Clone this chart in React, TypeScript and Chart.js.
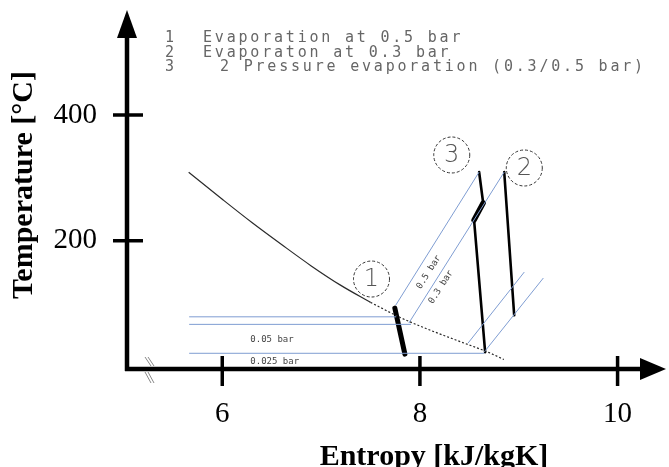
import React, { useEffect, useRef } from "react";
import { Chart, registerables } from "chart.js";
Chart.register(...registerables);

// ---- axes ----
const xTicks = [6, 8, 10];
const yTicks = [200, 400];
const X_MIN = 5.036;
const X_MAX = 10.49;
const Y_MIN = -4;
const Y_MAX = 567;

// ---- saturated vapour curve (entropy, temperature) ----
const satCurveS = [5.66, 6.0, 6.3, 6.6, 6.9, 7.2, 7.5, 7.8, 8.1, 8.4, 8.7, 8.85];
const satCurveT = [309, 266, 229, 194, 160, 129, 102, 78, 58, 40, 22, 11];
const satSolidCount = 7;

// ---- wet-region isobars (horizontal) ----
const wetIsobarT = [79, 67, 21];
const wetIsobarStartS = [5.665, 5.665, 5.665];
const wetIsobarEndS = [7.76, 7.91, 8.65];
const wetLabels = ["0.05 bar", "0.025 bar"];
const wetLabelS = [6.284, 6.284];
const wetLabelT = [42, 7];

// ---- superheated isobars (diagonal) ----
const isobarStartS = [7.756, 7.888, 8.487, 8.65];
const isobarStartT = [97.7, 69.1, 37.2, 22.9];
const isobarEndS = [8.599, 8.853, 9.056, 9.249];
const isobarEndT = [309.3, 309.3, 150.2, 140.7];
const isobarLabels = ["0.5 bar", "0.3 bar"];
const isobarLabelS = [8.091, 8.213];
const isobarLabelT = [150.1, 126.3];

// ---- processes ----
const proc1S = [7.746, 7.848];
const proc1T = [92.9, 19.7];
const proc2S = [8.853, 8.954];
const proc2T = [309.3, 81.4];
const proc3UpperS = [8.599, 8.64];
const proc3UpperT = [309.3, 260.0];
const proc3ThickS = [8.64, 8.548];
const proc3ThickT = [260.0, 232.9];
const proc3LowerS = [8.548, 8.66];
const proc3LowerT = [232.9, 22.9];

// ---- numbered markers ----
const markerLabels = ["1", "2", "3"];
const markerS = [7.51, 9.056, 8.322];
const markerT = [139.1, 315.7, 336.4];

// ---- legend text ----
const legendNumbers = ["1", "2", "3"];
const legendTexts = [
  "Evaporation at 0.5 bar",
  "Evaporaton at 0.3 bar",
  "2 Pressure evaporation (0.3/0.5 bar)",
];

const xTitle = "Entropy [kJ/kgK]";
const yTitle = "Temperature [°C]";

const BLUE = "#7f9dd2";
const CURVE = "#2a2a2a";

function pts(xs: number[], ys: number[]) {
  return xs.map((v, i) => ({ x: v, y: ys[i] }));
}

function buildDatasets() {
  const base = { showLine: true, pointRadius: 0, fill: false };
  const ds: any[] = [];
  ds.push({
    ...base,
    data: pts(satCurveS.slice(0, satSolidCount), satCurveT.slice(0, satSolidCount)),
    borderColor: CURVE,
    borderWidth: 1.2,
    cubicInterpolationMode: "monotone",
  });
  ds.push({
    ...base,
    data: pts(satCurveS.slice(satSolidCount - 1), satCurveT.slice(satSolidCount - 1)),
    borderColor: CURVE,
    borderWidth: 1.2,
    borderDash: [2, 2],
    cubicInterpolationMode: "monotone",
  });
  wetIsobarT.forEach((t, i) => {
    ds.push({
      ...base,
      data: pts([wetIsobarStartS[i], wetIsobarEndS[i]], [t, t]),
      borderColor: BLUE,
      borderWidth: 1,
    });
  });
  isobarStartS.forEach((s, i) => {
    ds.push({
      ...base,
      data: pts([s, isobarEndS[i]], [isobarStartT[i], isobarEndT[i]]),
      borderColor: BLUE,
      borderWidth: 1,
    });
  });
  const proc = (xs: number[], ys: number[], w: number) => ({
    ...base,
    data: pts(xs, ys),
    borderColor: "#000",
    borderWidth: w,
    borderCapStyle: "round",
  });
  ds.push(proc(proc1S, proc1T, 5));
  ds.push(proc(proc2S, proc2T, 2.6));
  ds.push(proc(proc3UpperS, proc3UpperT, 2.6));
  ds.push(proc(proc3LowerS, proc3LowerT, 2.6));
  ds.push(proc(proc3ThickS, proc3ThickT, 5.5));
  return ds;
}

const decorPlugin = {
  id: "decor",
  afterDatasetsDraw(chart: any) {
    const { ctx, scales } = chart;
    const x = scales.x;
    const y = scales.y;
    ctx.save();
    // numbered dashed circles
    markerLabels.forEach((lab, i) => {
      const px = x.getPixelForValue(markerS[i]);
      const py = y.getPixelForValue(markerT[i]);
      ctx.setLineDash([3, 2]);
      ctx.strokeStyle = "#333";
      ctx.lineWidth = 1;
      ctx.beginPath();
      ctx.arc(px, py, 18, 0, Math.PI * 2);
      ctx.stroke();
      ctx.setLineDash([]);
      ctx.fillStyle = "#555";
      ctx.font = "300 24px 'DejaVu Sans'";
      ctx.textAlign = "center";
      ctx.textBaseline = "middle";
      ctx.fillText(lab, px, py + 1);
    });
    // isobar labels (rotated along lines)
    isobarLabels.forEach((lab, i) => {
      const x1 = x.getPixelForValue(isobarStartS[i]);
      const y1 = y.getPixelForValue(isobarStartT[i]);
      const x2 = x.getPixelForValue(isobarEndS[i]);
      const y2 = y.getPixelForValue(isobarEndT[i]);
      const ang = Math.atan2(y2 - y1, x2 - x1);
      const px = x.getPixelForValue(isobarLabelS[i]);
      const py = y.getPixelForValue(isobarLabelT[i]);
      ctx.save();
      ctx.translate(px, py);
      ctx.rotate(ang);
      ctx.fillStyle = "#444";
      ctx.font = "9px 'DejaVu Sans Mono'";
      ctx.textAlign = "center";
      ctx.textBaseline = "middle";
      ctx.fillText(lab, 0, 0);
      ctx.restore();
    });
    // wet-region labels
    wetLabels.forEach((lab, i) => {
      const px = x.getPixelForValue(wetLabelS[i]);
      const py = y.getPixelForValue(wetLabelT[i]);
      ctx.fillStyle = "#444";
      ctx.font = "9px 'DejaVu Sans Mono'";
      ctx.textAlign = "left";
      ctx.textBaseline = "middle";
      ctx.fillText(lab, px, py);
    });
    ctx.restore();
  },
  afterDraw(chart: any) {
    const { ctx, chartArea, scales } = chart;
    const { left, right, top, bottom } = chartArea;
    const x = scales.x;
    const y = scales.y;
    ctx.save();
    ctx.strokeStyle = "#000";
    ctx.fillStyle = "#000";
    ctx.setLineDash([]);
    // y axis
    ctx.lineWidth = 4.5;
    ctx.beginPath();
    ctx.moveTo(left, bottom + 2);
    ctx.lineTo(left, top + 20);
    ctx.stroke();
    ctx.beginPath();
    ctx.moveTo(left, top);
    ctx.lineTo(left - 10, top + 28);
    ctx.lineTo(left + 10, top + 28);
    ctx.closePath();
    ctx.fill();
    // x axis
    ctx.beginPath();
    ctx.moveTo(left - 2, bottom);
    ctx.lineTo(right - 20, bottom);
    ctx.stroke();
    ctx.beginPath();
    ctx.moveTo(right, bottom);
    ctx.lineTo(right - 26, bottom - 11);
    ctx.lineTo(right - 26, bottom + 11);
    ctx.closePath();
    ctx.fill();
    // tick marks crossing the axes
    ctx.lineWidth = 3.5;
    x.ticks.forEach((t: any) => {
      const px = x.getPixelForValue(t.value);
      ctx.beginPath();
      ctx.moveTo(px, bottom - 13);
      ctx.lineTo(px, bottom + 17);
      ctx.stroke();
    });
    y.ticks.forEach((t: any) => {
      const py = y.getPixelForValue(t.value);
      ctx.beginPath();
      ctx.moveTo(left - 14, py);
      ctx.lineTo(left + 16, py);
      ctx.stroke();
    });
    // axis break marks
    ctx.strokeStyle = "#888";
    ctx.lineWidth = 1;
    const bx = left + 21;
    [[-12, -3], [3, 14]].forEach(([a, b]) => {
      [0, 3].forEach((o) => {
        ctx.beginPath();
        ctx.moveTo(bx + o - 3, bottom + a);
        ctx.lineTo(bx + o + 3, bottom + b);
        ctx.stroke();
      });
    });
    // titles
    ctx.fillStyle = "#000";
    ctx.font = "bold 30px 'Liberation Serif'";
    ctx.textAlign = "center";
    ctx.textBaseline = "alphabetic";
    ctx.fillText(xTitle, 434, 465);
    ctx.save();
    ctx.translate(32, 185);
    ctx.rotate(-Math.PI / 2);
    ctx.fillText(yTitle, 0, 0);
    ctx.restore();
    // legend text
    ctx.fillStyle = "#666";
    ctx.font = "15px 'DejaVu Sans Mono'";
    ctx.textAlign = "left";
    (ctx as any).letterSpacing = "2.8px";
    const baselines = [42, 56.5, 71];
    const textX = [203, 203, 220];
    legendNumbers.forEach((n, i) => {
      ctx.fillText(n, 165, baselines[i]);
      ctx.fillText(legendTexts[i], textX[i], baselines[i]);
    });
    (ctx as any).letterSpacing = "0px";
    ctx.restore();
  },
};

export default function App() {
  const ref = useRef<HTMLCanvasElement>(null);
  useEffect(() => {
    const tickFont = { family: "'Liberation Serif'", size: 29 };
    const chart = new Chart(ref.current!, {
      type: "scatter",
      data: { datasets: buildDatasets() },
      options: {
        responsive: false,
        animation: false,
        devicePixelRatio: 1,
        layout: { padding: { left: 0, top: 10, right: 3, bottom: 0 } },
        plugins: { legend: { display: false }, tooltip: { enabled: false } },
        scales: {
          x: {
            type: "linear",
            min: X_MIN,
            max: X_MAX,
            grid: { display: false, drawTicks: false },
            border: { display: false },
            afterBuildTicks: (s: any) => {
              s.ticks = xTicks.map((v) => ({ value: v }));
            },
            afterFit: (s: any) => {
              s.height = 98;
              s.paddingLeft = 0;
              s.paddingRight = 0;
            },
            ticks: {
              font: tickFont,
              color: "#000",
              padding: 28,
              maxRotation: 0,
              autoSkip: false,
              callback: (v: any) => String(v),
            },
          },
          y: {
            type: "linear",
            min: Y_MIN,
            max: Y_MAX,
            grid: { display: false, drawTicks: false },
            border: { display: false },
            afterBuildTicks: (s: any) => {
              s.ticks = yTicks.map((v) => ({ value: v }));
            },
            afterFit: (s: any) => {
              s.width = 127;
              s.paddingTop = 0;
              s.paddingBottom = 0;
            },
            ticks: {
              font: tickFont,
              color: "#000",
              padding: 30,
              autoSkip: false,
              callback: (v: any) => String(v),
            },
          },
        },
      } as any,
      plugins: [decorPlugin],
    });
    return () => chart.destroy();
  }, []);
  return (
    <div style={{ position: "fixed", left: 0, top: 0, width: 669, height: 467, background: "#fff" }}>
      <canvas ref={ref} width={669} height={467} style={{ display: "block" }} />
    </div>
  );
}
